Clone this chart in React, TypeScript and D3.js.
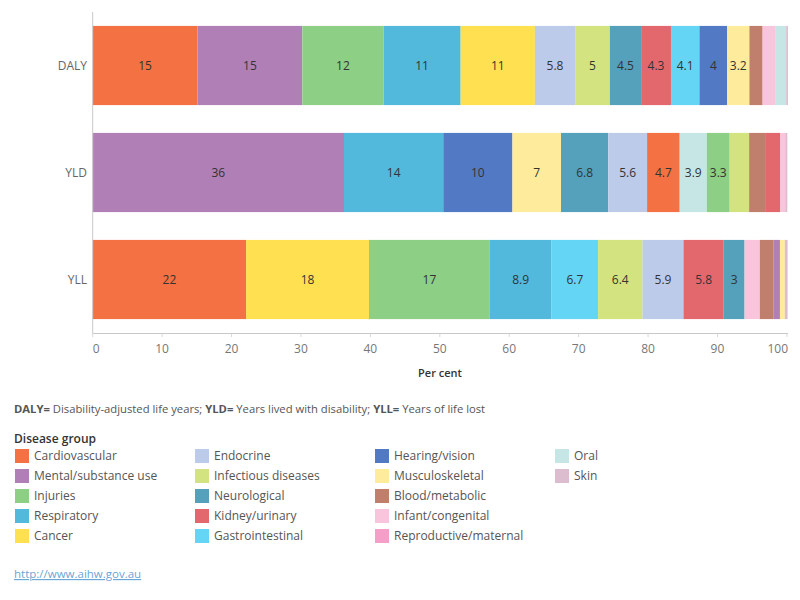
import React from "react";
import * as d3 from "d3";

const groups = [
  "Cardiovascular", "Mental/substance use", "Injuries", "Respiratory", "Cancer",
  "Endocrine", "Infectious diseases", "Neurological", "Kidney/urinary", "Gastrointestinal",
  "Hearing/vision", "Musculoskeletal", "Blood/metabolic", "Infant/congenital", "Reproductive/maternal",
  "Oral", "Skin",
];
const colors = [
  "#f37142", "#b07fb5", "#8dcf84", "#52b9dc", "#ffe050",
  "#bccbe9", "#d3e37f", "#55a1bb", "#e3686e", "#65d5f5",
  "#527ac4", "#feeb9c", "#c07e6c", "#f8c5dd", "#f59fc8",
  "#c6e6e5", "#dcbdd0",
];
const measures = ["DALY", "YLD", "YLL"];
const dalyValues = [15.1, 15.1, 11.7, 11.1, 10.7, 5.8, 5.0, 4.5, 4.3, 4.1, 4.0, 3.2, 1.9, 1.8, 0, 1.6, 0.25];
const yldValues = [4.7, 36.2, 3.3, 14.3, 0, 5.6, 2.8, 6.8, 2.2, 0, 9.96, 7.0, 2.3, 0.7, 0, 3.9, 0.3];
const yllValues = [22.1, 0.9, 17.4, 8.9, 17.7, 5.9, 6.4, 3.0, 5.8, 6.7, 0, 0.7, 2.0, 2.2, 0, 0, 0.4];
const xTicks = [0, 10, 20, 30, 40, 50, 60, 70, 80, 90, 100];

const FONT = "'Open Sans', Lato, sans-serif";

export default function App() {
  const series = [dalyValues, yldValues, yllValues];
  const x = d3.scaleLinear().domain([0, 100]).range([92.7, 786.9]);
  const y = d3.scaleBand<string>().domain(measures).range([12, 333]).paddingInner(0.26).paddingOuter(0.13);
  const fmt = d3.format(".2~r");

  const bars = measures.map((m, mi) => {
    const vals = series[mi];
    const idx = d3.range(groups.length).filter((i) => vals[i] > 0);
    idx.sort((a, b) => d3.descending(vals[a], vals[b]));
    let cum = 0;
    return idx.map((i) => {
      const x0 = cum;
      cum += vals[i];
      return { m, i, x0, x1: cum, v: vals[i] };
    });
  });

  const rowsPerCol = 5;

  return (
    <svg width={800} height={600} style={{ position: "absolute", left: 0, top: 0, background: "#fff" }} fontFamily={FONT}>
      {bars.map((segs, mi) =>
        segs.map((s) => {
          const x0 = x(s.x0);
          const x1 = x(s.x1);
          const yy = y(s.m)!;
          return (
            <g key={`${mi}-${s.i}`}>
              <rect x={x0} y={yy} width={x1 - x0} height={y.bandwidth()} fill={colors[s.i]} />
              {s.v >= 2.95 && (
                <text x={(x0 + x1) / 2} y={yy + y.bandwidth() / 2} dy="0.35em" textAnchor="middle" fontSize={12} fill="#333">
                  {fmt(s.v)}
                </text>
              )}
            </g>
          );
        })
      )}
      <line x1={92.7} x2={92.7} y1={12} y2={333.5} stroke="#c8c8c8" strokeWidth={1} />
      <line x1={92.7} x2={788} y1={333.5} y2={333.5} stroke="#c8c8c8" strokeWidth={1} />
      {xTicks.map((t, k) => (
        <g key={t}>
          <line x1={x(t)} x2={x(t)} y1={333.5} y2={337} stroke="#d8d8d8" />
          <text
            x={k === xTicks.length - 1 ? 788 : x(t)}
            y={349}
            dy="0.35em"
            textAnchor={k === 0 ? "start" : k === xTicks.length - 1 ? "end" : "middle"}
            fontSize={12}
            fill="#777"
          >
            {t}
          </text>
        </g>
      ))}
      {measures.map((m) => (
        <text key={m} x={87} y={y(m)! + y.bandwidth() / 2} dy="0.35em" textAnchor="end" fontSize={12} fill="#666">
          {m}
        </text>
      ))}
      <text x={440} y={373} dy="0.35em" textAnchor="middle" fontSize={11} fill="#333" fontWeight={600}>
        Per cent
      </text>
      <text x={14} y={409} dy="0.35em" fontSize={11.25} fill="#555">
        <tspan fontWeight={700}>DALY=</tspan>
        <tspan> Disability-adjusted life years; </tspan>
        <tspan fontWeight={700}>YLD=</tspan>
        <tspan> Years lived with disability; </tspan>
        <tspan fontWeight={700}>YLL=</tspan>
        <tspan> Years of life lost</tspan>
      </text>
      <text x={14} y={439} dy="0.35em" fontSize={12} fill="#333" fontWeight={600}>
        Disease group
      </text>
      {groups.map((g, i) => {
        const col = Math.floor(i / rowsPerCol);
        const row = i % rowsPerCol;
        const lx = 15 + col * 180;
        const ly = 456 + row * 20;
        return (
          <g key={g}>
            <rect x={lx} y={ly - 7} width={14} height={14} fill={colors[i]} />
            <text x={lx + 19} y={ly} dy="0.35em" fontSize={12} fill="#555">
              {g}
            </text>
          </g>
        );
      })}
      <text x={14} y={574} dy="0.35em" fontSize={11.5} fill="#6aa6d6" textDecoration="underline">
        http://www.aihw.gov.au
      </text>
    </svg>
  );
}
